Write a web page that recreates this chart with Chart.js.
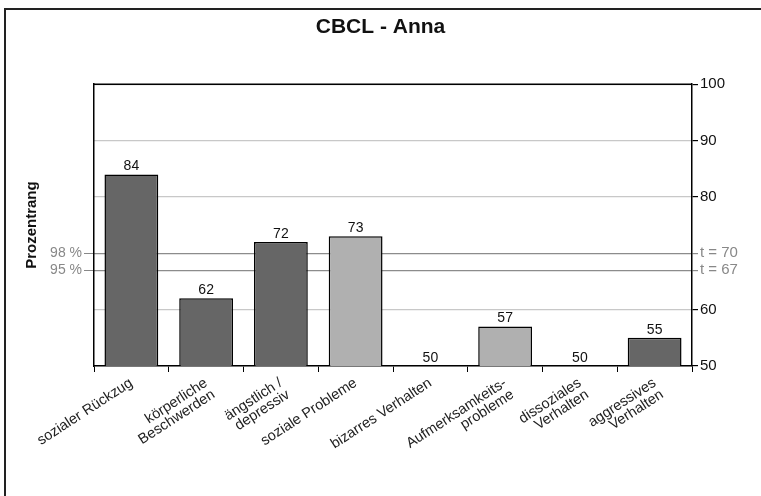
<!DOCTYPE html>
<html>
<head>
<meta charset="utf-8">
<script src="https://cdn.jsdelivr.net/npm/chart.js@4"></script>
<style>
  body { margin: 0; background: #fff; }
  #wrap { width: 761px; height: 496px; }
</style>
</head>
<body>
<div id="wrap"><canvas id="myChart" width="761" height="496"></canvas></div>
<script>
const categories = [
    'sozialer Rückzug',
    ['körperliche', 'Beschwerden'],
    ['ängstlich /', 'depressiv'],
    'soziale Probleme',
    'bizarres Verhalten',
    ['Aufmerksamkeits-', 'probleme'],
    ['dissoziales', 'Verhalten'],
    ['aggressives', 'Verhalten']
];
const values = [84, 62, 72, 73, 50, 57, 50, 55];
const barColors = ['#666666', '#666666', '#666666', '#b0b0b0', '#666666', '#b0b0b0', '#666666', '#666666'];
const rightTicks = [50, 60, 67, 70, 80, 90, 100];
const rightTickLabels = {67: 't = 67', 70: 't = 70'};
const leftTicks = [67, 70];
const leftTickLabels = {67: '95 %', 70: '98 %'};
const cutoffs = [67, 70];

const FONT = 'Liberation Sans, Arial, sans-serif';

// frame round the whole picture + top line of the plot box
const framePlugin = {
    id: 'frame',
    beforeDraw(chart) {
        const ctx = chart.ctx;
        ctx.save();
        ctx.strokeStyle = '#222';
        ctx.lineWidth = 2;
        ctx.beginPath();
        ctx.moveTo(5, 600);
        ctx.lineTo(5, 9);
        ctx.lineTo(900, 9);
        ctx.stroke();
        ctx.restore();
    },
    afterDraw(chart) {
        const a = chart.chartArea;
        const ctx = chart.ctx;
        ctx.save();
        ctx.strokeStyle = '#000';
        ctx.lineWidth = 1.5;
        ctx.beginPath();
        ctx.moveTo(a.left, a.top);
        ctx.lineTo(a.right, a.top);
        ctx.stroke();
        ctx.restore();
    }
};

// value labels above the bars
const valueLabels = {
    id: 'valueLabels',
    afterDatasetsDraw(chart) {
        const ctx = chart.ctx;
        const meta = chart.getDatasetMeta(0);
        ctx.save();
        ctx.font = '14px ' + FONT;
        ctx.fillStyle = '#111';
        ctx.textAlign = 'center';
        ctx.textBaseline = 'bottom';
        meta.data.forEach((bar, i) => {
            ctx.fillText(String(values[i]), bar.x, bar.y - 1);
        });
        ctx.restore();
    }
};

new Chart(document.getElementById('myChart'), {
    type: 'bar',
    data: {
        labels: categories,
        datasets: [{
            data: values,
            backgroundColor: barColors,
            borderColor: '#000',
            borderWidth: 1.5,
            borderSkipped: false,
            categoryPercentage: 1,
            barPercentage: 0.72
        }]
    },
    options: {
        responsive: false,
        animation: false,
        devicePixelRatio: 1,
        plugins: {
            legend: {display: false},
            tooltip: {enabled: false},
            title: {
                display: true,
                text: 'CBCL - Anna',
                color: '#111',
                font: {family: FONT, size: 21, weight: 'bold', lineHeight: 1.2},
                padding: {top: 15, bottom: 44}
            }
        },
        layout: {padding: {left: 0, right: 0, top: 0, bottom: 0}},
        scales: {
            x: {
                grid: {
                    offset: true,
                    drawOnChartArea: false,
                    drawTicks: true,
                    tickLength: 6,
                    color: '#000',
                    lineWidth: 1
                },
                border: {color: '#000', width: 1.5},
                ticks: {
                    minRotation: 33,
                    maxRotation: 33,
                    autoSkip: false,
                    padding: 4,
                    color: '#222',
                    font: {family: FONT, size: 14.5, lineHeight: 0.95}
                },
                afterFit(scale) { scale.height = 130; }
            },
            yLeft: {
                position: 'left',
                min: 50,
                max: 100,
                afterBuildTicks(scale) {
                    scale.ticks = leftTicks.map(v => ({value: v}));
                },
                ticks: {
                    callback: v => leftTickLabels[v] || '',
                    color: '#888',
                    padding: 2,
                    font: {family: FONT, size: 14}
                },
                grid: {
                    drawOnChartArea: false,
                    drawTicks: true,
                    tickLength: 10,
                    color: '#888'
                },
                border: {color: '#000', width: 1.5},
                title: {
                    display: true,
                    text: 'Prozentrang',
                    color: '#111',
                    font: {family: FONT, size: 15, weight: 'bold'},
                    padding: {top: 23, bottom: 0}
                },
                afterFit(scale) { scale.width = 94; }
            },
            y: {
                position: 'right',
                min: 50,
                max: 100,
                afterBuildTicks(scale) {
                    scale.ticks = rightTicks.map(v => ({value: v}));
                },
                ticks: {
                    callback: v => rightTickLabels[v] || String(v),
                    color: ctx => cutoffs.includes(ctx.tick.value) ? '#888' : '#111',
                    padding: 2,
                    font: {family: FONT, size: 15}
                },
                grid: {
                    drawTicks: true,
                    tickLength: 6,
                    color: ctx => cutoffs.includes(ctx.tick.value) ? '#8c8c8c' : '#c8c8c8',
                    tickColor: ctx => cutoffs.includes(ctx.tick.value) ? '#8c8c8c' : '#000',
                    lineWidth: 1.2
                },
                border: {color: '#000', width: 1.5},
                afterFit(scale) { scale.width = 69; }
            }
        }
    },
    plugins: [framePlugin, valueLabels]
});
</script>
</body>
</html>
